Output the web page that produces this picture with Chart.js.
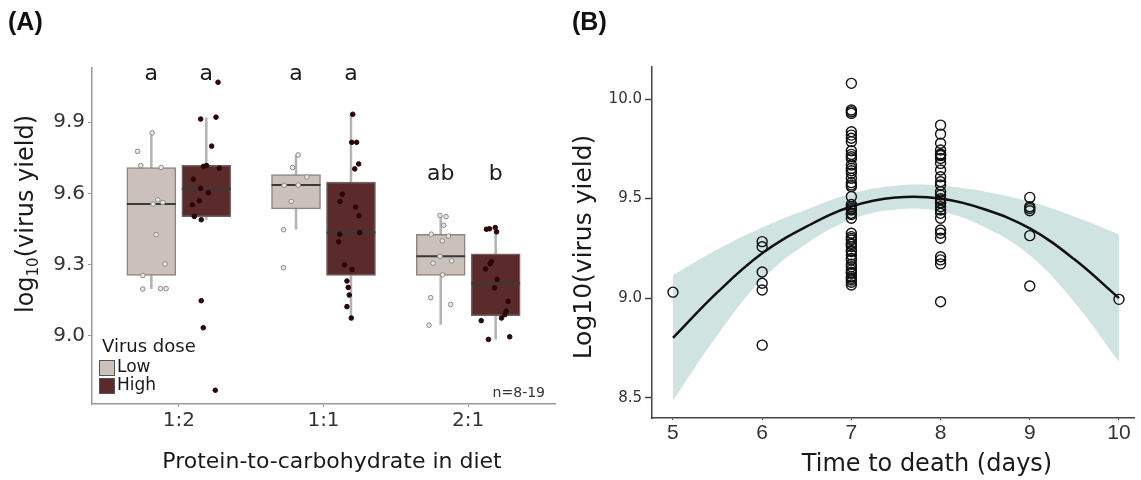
<!DOCTYPE html>
<html>
<head>
<meta charset="utf-8">
<script src="https://cdn.jsdelivr.net/npm/chart.js@4.4.0/dist/chart.umd.min.js"></script>
<style>
    html, body { margin: 0; padding: 0; background: #fff; }
    #wrap { position: relative; width: 1141px; height: 480px; overflow: hidden; }
    canvas { position: absolute; top: 0; }
    #chartA { left: 0; }
    #chartB { left: 560px; }
</style>
</head>
<body>
<div id="wrap">
    <canvas id="chartA" width="570" height="480"></canvas>
    <canvas id="chartB" width="581" height="480"></canvas>
</div>
<script>
// ---------- panel A data ----------
const dietRatios = ['1:2', '1:1', '2:1'];
const yTicksA = [9.0, 9.3, 9.6, 9.9];
const lowLetters = ['a', 'a', 'ab'];
const highLetters = ['a', 'a', 'b'];
const letterLevel = [10.077, 10.077, 9.655];

// box stats per diet (low / high virus dose)
const lowMin = [9.197, 9.448, 9.047];
const lowQ1 = [9.254, 9.535, 9.255];
const lowMedian = [9.555, 9.635, 9.335];
const lowQ3 = [9.709, 9.679, 9.428];
const lowMax = [9.855, 9.762, 9.506];
const highMin = [9.489, 9.075, 8.985];
const highQ1 = [9.502, 9.255, 9.085];
const highMedian = [9.620, 9.435, 9.221];
const highQ3 = [9.718, 9.648, 9.345];
const highMax = [9.920, 9.933, 9.455];

// individual larvae (values + horizontal jitter in category units)
const lowYield = [
    [9.777, 9.717, 9.709, 9.855, 9.573, 9.555, 9.562, 9.426, 9.303, 9.254, 9.197, 9.199, 9.199],
    [9.762, 9.709, 9.669, 9.634, 9.635, 9.566, 9.447, 9.287],
    [9.507, 9.502, 9.466, 9.428, 9.420, 9.400, 9.335, 9.306, 9.316, 9.257, 9.161, 9.132, 9.045]
];
const lowJitter = [
    [-0.095, -0.073, 0.068, 0.006, 0.045, 0.012, 0.079, 0.033, 0.095, -0.059, -0.059, 0.064, 0.102],
    [0.015, -0.024, 0.075, -0.082, 0.015, -0.033, -0.086, -0.086],
    [-0.005, 0.037, 0.021, -0.065, 0.053, 0.011, -0.005, -0.053, 0.076, 0.014, -0.069, 0.069, -0.081]
];
const highYield = [
    [10.068, 9.913, 9.921, 9.799, 9.714, 9.717, 9.706, 9.660, 9.621, 9.603, 9.569, 9.552, 9.503, 9.489, 9.148, 9.034, 8.771],
    [9.933, 9.815, 9.815, 9.724, 9.703, 9.597, 9.566, 9.542, 9.506, 9.428, 9.435, 9.396, 9.299, 9.279, 9.231, 9.204, 9.172, 9.123, 9.075],
    [9.449, 9.451, 9.456, 9.438, 9.313, 9.304, 9.282, 9.238, 9.202, 9.145, 9.104, 9.089, 9.075, 9.064, 8.985, 8.996]
];
const highJitter = [
    [0.081, -0.039, 0.067, 0.037, -0.019, 0.002, 0.090, -0.090, -0.039, 0.014, -0.048, -0.097, -0.083, -0.035, -0.035, -0.021, 0.062],
    [0.012, 0.005, 0.039, 0.053, 0.026, -0.060, -0.076, 0.032, 0.055, -0.078, 0.060, -0.085, -0.044, 0.007, -0.028, -0.019, -0.012, -0.028, 0.002],
    [-0.064, -0.043, -0.003, 0.006, -0.029, -0.038, -0.070, 0.010, -0.008, 0.086, 0.073, 0.063, 0.040, -0.100, -0.050, 0.097]
];

// ---------- panel B data ----------
const deathDays = [5, 6, 7, 8, 9, 10];
const yTicksB = [8.5, 9.0, 9.5, 10.0];
const yieldDay5 = [9.030];
const yieldDay6 = [9.284, 9.258, 9.131, 9.075, 9.041, 8.764];
const yieldDay7 = [10.079, 9.945, 9.936, 9.928, 9.836, 9.819, 9.803, 9.786, 9.74, 9.722, 9.710, 9.70, 9.669,
    9.652, 9.64, 9.627, 9.602, 9.58, 9.568, 9.560, 9.510, 9.47, 9.459, 9.45, 9.443, 9.426, 9.42, 9.401,
    9.326, 9.309, 9.30, 9.292, 9.276, 9.27, 9.259, 9.24, 9.234, 9.217, 9.20, 9.192, 9.17, 9.158, 9.142,
    9.13, 9.125, 9.108, 9.10, 9.091, 9.08, 9.066];
const yieldDay8 = [9.869, 9.824, 9.778, 9.744, 9.724, 9.72, 9.716, 9.702, 9.677, 9.644, 9.610, 9.585, 9.568,
    9.535, 9.518, 9.50, 9.493, 9.48, 9.476, 9.459, 9.443, 9.426, 9.401, 9.342, 9.326, 9.301, 9.208, 9.192,
    9.172, 8.982];
const yieldDay9 = [9.506, 9.459, 9.45, 9.439, 9.314, 9.061];
const yieldDay10 = [8.994];

const fitDays = [5, 5.5, 6, 6.5, 7, 7.5, 8, 8.5, 9, 9.5, 10];
const fitYield = [8.80, 9.03, 9.225, 9.36, 9.46, 9.505, 9.50, 9.445, 9.35, 9.195, 9.00];
const bandUpper = [9.115, 9.245, 9.355, 9.445, 9.525, 9.565, 9.565, 9.535, 9.485, 9.41, 9.32];
const bandLower = [8.485, 8.815, 9.095, 9.275, 9.395, 9.445, 9.435, 9.355, 9.215, 8.98, 8.68];

// ---------- styling ----------
const SANS = '"DejaVu Sans", Verdana, sans-serif';
const NARROW = '"Liberation Sans Narrow", "Liberation Sans", Arial, sans-serif';
const DODGE = 0.19;
const BOX_HALF = 0.169;
const LOW_FILL = '#cbc1ba';
const HIGH_FILL = '#5b2a2b';

Chart.defaults.font.family = SANS;

// ---------- panel A ----------
const boxData = [
    ...lowQ1.map((q, i) => ({ x: i + 1 - DODGE, y: [q, lowQ3[i]] })),
    ...highQ1.map((q, i) => ({ x: i + 1 + DODGE, y: [q, highQ3[i]] }))
];
const whiskerData = [];
const medianData = [];
dietRatios.forEach((r, i) => {
    const cl = i + 1 - DODGE, ch = i + 1 + DODGE;
    whiskerData.push({ x: cl, y: lowMin[i] }, { x: cl, y: lowMax[i] }, { x: null, y: null });
    whiskerData.push({ x: ch, y: highMin[i] }, { x: ch, y: highMax[i] }, { x: null, y: null });
    medianData.push({ x: cl - BOX_HALF, y: lowMedian[i] }, { x: cl + BOX_HALF, y: lowMedian[i] }, { x: null, y: null });
    medianData.push({ x: ch - BOX_HALF, y: highMedian[i] }, { x: ch + BOX_HALF, y: highMedian[i] }, { x: null, y: null });
});
const lowPoints = lowYield.flatMap((arr, i) => arr.map((v, j) => ({ x: i + 1 - DODGE + lowJitter[i][j], y: v })));
const highPoints = highYield.flatMap((arr, i) => arr.map((v, j) => ({ x: i + 1 + DODGE + highJitter[i][j], y: v })));

function drawLogTitle(ctx, baseX, cy) {
    ctx.save();
    ctx.translate(baseX, cy);
    ctx.rotate(-Math.PI / 2);
    const big = '24px ' + SANS, small = '15px ' + SANS;
    ctx.font = big;
    const w1 = ctx.measureText('log').width;
    const w3 = ctx.measureText('(virus yield)').width;
    ctx.font = small;
    const w2 = ctx.measureText('10').width;
    const x0 = -(w1 + w2 + w3) / 2;
    ctx.textAlign = 'left';
    ctx.textBaseline = 'alphabetic';
    ctx.fillStyle = '#1a1a1a';
    ctx.font = big;
    ctx.fillText('log', x0, 0);
    ctx.font = small;
    ctx.fillText('10', x0 + w1, 5);
    ctx.font = big;
    ctx.fillText('(virus yield)', x0 + w1 + w2, 0);
    ctx.restore();
}

const panelAText = {
    id: 'panelAText',
    afterDraw(chart) {
        const { ctx, chartArea: ca, scales: { x, y } } = chart;
        ctx.save();
        ctx.fillStyle = '#1a1a1a';
        ctx.textAlign = 'center';
        ctx.textBaseline = 'alphabetic';
        ctx.font = '22px ' + SANS;
        dietRatios.forEach((r, i) => {
            const yy = y.getPixelForValue(letterLevel[i]);
            ctx.fillText(lowLetters[i], x.getPixelForValue(i + 1 - DODGE), yy);
            ctx.fillText(highLetters[i], x.getPixelForValue(i + 1 + DODGE), yy);
        });
        // legend
        ctx.textAlign = 'left';
        ctx.font = '18px ' + SANS;
        ctx.fillText('Virus dose', ca.left + 10, 352);
        ctx.lineWidth = 1;
        ctx.strokeStyle = '#555';
        ctx.fillStyle = LOW_FILL;
        ctx.fillRect(ca.left + 7.5, 360.5, 15, 15);
        ctx.strokeRect(ca.left + 7.5, 360.5, 15, 15);
        ctx.fillStyle = HIGH_FILL;
        ctx.fillRect(ca.left + 7.5, 378.5, 15, 15);
        ctx.strokeRect(ca.left + 7.5, 378.5, 15, 15);
        ctx.fillStyle = '#1a1a1a';
        ctx.font = '17px ' + SANS;
        ctx.textBaseline = 'middle';
        ctx.fillText('Low', ca.left + 25, 368);
        ctx.fillText('High', ca.left + 25, 386);
        // sample size note
        ctx.textAlign = 'right';
        ctx.textBaseline = 'alphabetic';
        ctx.font = '14px ' + SANS;
        ctx.fillStyle = '#333';
        ctx.fillText('n=8-19', ca.right - 10, 397);
        // panel tag and axis titles
        ctx.textAlign = 'left';
        ctx.fillStyle = '#111';
        ctx.font = 'bold 25px ' + NARROW;
        ctx.fillText('(A)', 8, 30);
        ctx.textAlign = 'center';
        ctx.fillStyle = '#1a1a1a';
        ctx.font = '22px ' + SANS;
        ctx.fillText('Protein-to-carbohydrate in diet', 332, 468);
        ctx.restore();
        drawLogTitle(ctx, 33, 214);
    }
};

new Chart(document.getElementById('chartA'), {
    type: 'bar',
    data: {
        datasets: [
            {
                type: 'line', data: whiskerData, borderColor: '#b3b3b3', borderWidth: 2.5,
                pointRadius: 0, spanGaps: false, order: 4
            },
            {
                type: 'bar', data: boxData, barThickness: 49, grouped: false,
                backgroundColor: [LOW_FILL, LOW_FILL, LOW_FILL, HIGH_FILL, HIGH_FILL, HIGH_FILL],
                borderColor: ['#8c8581', '#8c8581', '#8c8581', '#6f6464', '#6f6464', '#6f6464'],
                borderWidth: 1.5, borderSkipped: false, order: 3
            },
            {
                type: 'line', data: medianData, borderColor: '#3a3a3a', borderWidth: 2,
                pointRadius: 0, spanGaps: false, order: 2
            },
            {
                type: 'scatter', data: lowPoints, pointRadius: 2.3, pointBorderWidth: 1,
                backgroundColor: '#ebe7e4', borderColor: '#8a8a8a', order: 1
            },
            {
                type: 'scatter', data: highPoints, pointRadius: 2.3, pointBorderWidth: 1,
                backgroundColor: '#2a0707', borderColor: '#2a0707', order: 1
            }
        ]
    },
    options: {
        responsive: false,
        animation: false,
        layout: { padding: { top: 68, right: 15, left: 0, bottom: 0 } },
        plugins: { legend: { display: false }, tooltip: { enabled: false } },
        scales: {
            x: {
                type: 'linear', min: 0.4, max: 3.6, offset: false,
                afterBuildTicks: (s) => { s.ticks = dietRatios.map((r, i) => ({ value: i + 1 })); },
                afterFit: (s) => { s.height = 76; },
                ticks: {
                    callback: (v) => dietRatios[Math.round(v) - 1],
                    font: { family: SANS, size: 20 }, color: '#333', padding: 2, maxRotation: 0, autoSkip: false
                },
                grid: { offset: false, drawOnChartArea: false, tickLength: 3, tickColor: '#999', tickWidth: 1 },
                border: { display: true, color: '#999', width: 1.5 }
            },
            y: {
                type: 'linear', min: 8.713, max: 10.128,
                afterBuildTicks: (s) => { s.ticks = yTicksA.map(v => ({ value: v })); },
                afterFit: (s) => { s.width = 92; },
                ticks: {
                    callback: (v) => Number(v).toFixed(1),
                    font: { family: SANS, size: 20 }, color: '#333', padding: 3
                },
                grid: { offset: false, drawOnChartArea: false, tickLength: 4, tickColor: '#999', tickWidth: 1 },
                border: { display: true, color: '#999', width: 1.5 }
            }
        }
    },
    plugins: [panelAText]
});

// ---------- panel B ----------
const dayYields = [yieldDay5, yieldDay6, yieldDay7, yieldDay8, yieldDay9, yieldDay10];
const larvaPoints = dayYields.flatMap((arr, i) => arr.map(v => ({ x: deathDays[i], y: v })));

const panelBText = {
    id: 'panelBText',
    afterDraw(chart) {
        const { ctx } = chart;
        ctx.save();
        ctx.fillStyle = '#111';
        ctx.textAlign = 'left';
        ctx.textBaseline = 'alphabetic';
        ctx.font = 'bold 25px ' + NARROW;
        ctx.fillText('(B)', 12, 30);
        ctx.fillStyle = '#1a1a1a';
        ctx.textAlign = 'center';
        ctx.font = '24px ' + SANS;
        ctx.fillText('Time to death (days)', 367, 471);
        ctx.translate(31, 247);
        ctx.rotate(-Math.PI / 2);
        ctx.font = '25px ' + SANS;
        ctx.fillText('Log10(virus yield)', 0, 0);
        ctx.restore();
    }
};

new Chart(document.getElementById('chartB'), {
    type: 'scatter',
    data: {
        datasets: [
            {
                type: 'line', data: fitDays.map((d, i) => ({ x: d, y: bandUpper[i] })),
                borderColor: 'rgba(0,0,0,0)', borderWidth: 0, pointRadius: 0, tension: 0.4,
                fill: '+1', backgroundColor: '#cfe3e1', order: 4
            },
            {
                type: 'line', data: fitDays.map((d, i) => ({ x: d, y: bandLower[i] })),
                borderColor: 'rgba(0,0,0,0)', borderWidth: 0, pointRadius: 0, tension: 0.4,
                fill: false, order: 3
            },
            {
                type: 'line', data: fitDays.map((d, i) => ({ x: d, y: fitYield[i] })),
                borderColor: '#111', borderWidth: 2.5, pointRadius: 0, tension: 0.4, fill: false, order: 2
            },
            {
                type: 'scatter', data: larvaPoints, pointRadius: 5, pointBorderWidth: 1.4,
                backgroundColor: 'rgba(0,0,0,0)', borderColor: '#111', order: 1
            }
        ]
    },
    options: {
        responsive: false,
        animation: false,
        layout: { padding: { top: 67, right: 0, left: 0, bottom: 0 } },
        plugins: { legend: { display: false }, tooltip: { enabled: false } },
        scales: {
            x: {
                type: 'linear', min: 4.765, max: 10.175,
                afterBuildTicks: (s) => { s.ticks = deathDays.map(v => ({ value: v })); },
                afterFit: (s) => { s.height = 62; },
                ticks: {
                    callback: (v) => String(v),
                    font: { family: NARROW, size: 21 }, color: '#333', padding: 1, maxRotation: 0, autoSkip: false
                },
                grid: { drawOnChartArea: false, tickLength: 2, tickColor: '#444' },
                border: { display: true, color: '#444', width: 1.5 }
            },
            y: {
                type: 'linear', min: 8.398, max: 10.161,
                afterBuildTicks: (s) => { s.ticks = yTicksB.map(v => ({ value: v })); },
                afterFit: (s) => { s.width = 92; },
                ticks: {
                    callback: (v) => Number(v).toFixed(1),
                    font: { family: SANS, size: 15 }, color: '#333', padding: 3
                },
                grid: { drawOnChartArea: false, tickLength: 7, tickColor: '#444', tickWidth: 1.5 },
                border: { display: true, color: '#444', width: 1.5 }
            }
        }
    },
    plugins: [panelBText]
});
</script>
</body>
</html>
